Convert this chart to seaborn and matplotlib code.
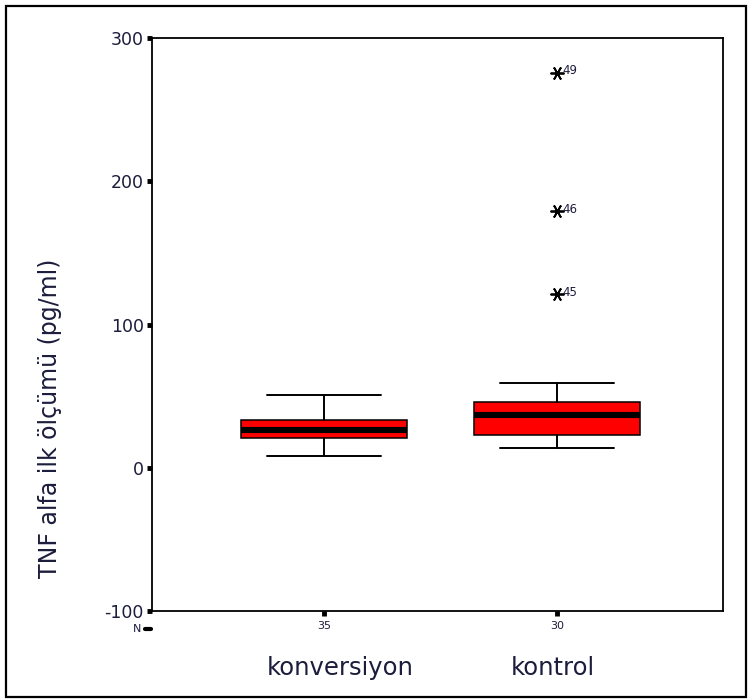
import numpy as np
import matplotlib
matplotlib.use("Agg")
import matplotlib.pyplot as plt
import seaborn as sns
from matplotlib.patches import Rectangle

# box summaries
groups = ["konversiyon", "kontrol"]
n_counts = [35, 30]
whisker_low = [8.5, 14]
q1 = [21, 23]
medians = [26.5, 36.5]
q3 = [33.5, 46]
whisker_high = [50.5, 59]
outlier_vals = [[], [275.5, 179, 121]]
outlier_ids = [[], ["49", "46", "45"]]
yticks = [-100, 0, 100, 200, 300]

sns.set_style("white")
plt.rcParams["font.family"] = ["DejaVu Sans"]
txt = "#1c1c3c"

fig = plt.figure(figsize=(7.51, 7.0), dpi=100)
ax = fig.add_axes([0.2024, 0.1271, 0.7603, 0.8186])

stats = []
for i, g in enumerate(groups):
    stats.append({"label": g, "whislo": whisker_low[i], "q1": q1[i],
                  "med": medians[i], "q3": q3[i], "whishi": whisker_high[i],
                  "fliers": outlier_vals[i]})

pos = np.arange(len(groups))
ax.bxp(stats, positions=pos, widths=0.71, capwidths=0.49, patch_artist=True,
       manage_ticks=False,
       boxprops=dict(facecolor="#ff0000", edgecolor="black", linewidth=1.1),
       medianprops=dict(color="black", linewidth=4.4),
       whiskerprops=dict(color="black", linewidth=1.4),
       capprops=dict(color="black", linewidth=1.4),
       flierprops=dict(marker=(6, 2, 90), markersize=10, markeredgecolor="black",
                       markeredgewidth=1.3, linestyle="none"))

for i in range(len(groups)):
    for v, lab in zip(outlier_vals[i], outlier_ids[i]):
        ax.text(pos[i] + 0.024, v + 1.5, lab, fontsize=8.5, color=txt,
                va="center", ha="left")

ax.set_ylim(-100, 300)
ax.set_xlim(-0.738, 1.712)
ax.set_yticks(yticks)
ax.set_yticklabels([str(t) for t in yticks], fontsize=12.5, color=txt)
ax.set_xticks(pos)
ax.set_xticklabels([str(n) for n in n_counts], fontsize=8, color=txt)
ax.tick_params(axis="y", left=True, direction="out", length=3.5, width=3.5,
               color="black", pad=2.5)
ax.tick_params(axis="x", bottom=True, direction="out", length=3.5, width=3.5,
               color="black", pad=4)
for s in ax.spines.values():
    s.set_visible(True)
    s.set_color("black")
    s.set_linewidth(1.3)

ax.set_ylabel("TNF alfa ilk ölçümü (pg/ml)", fontsize=17, color=txt)
ax.yaxis.set_label_coords(-0.158, 0.336)

# N row and category names below the axis
ax.text(-0.018, -0.032, "N", transform=ax.transAxes, fontsize=8, color=txt,
        ha="right", va="center")
ax.plot([-0.013, -0.002], [-0.032, -0.032], transform=ax.transAxes, color="black",
        linewidth=3, clip_on=False)
ax.text(pos[0] + 0.07, -140, groups[0], fontsize=17.5, color=txt, ha="center", va="center")
ax.text(pos[1] - 0.02, -140, groups[1], fontsize=17.5, color=txt, ha="center", va="center")

fig.add_artist(Rectangle((0.008, 0.005), 0.985, 0.987, transform=fig.transFigure,
                         fill=False, edgecolor="black", linewidth=1.6))

fig.savefig("out.png", dpi=100)
